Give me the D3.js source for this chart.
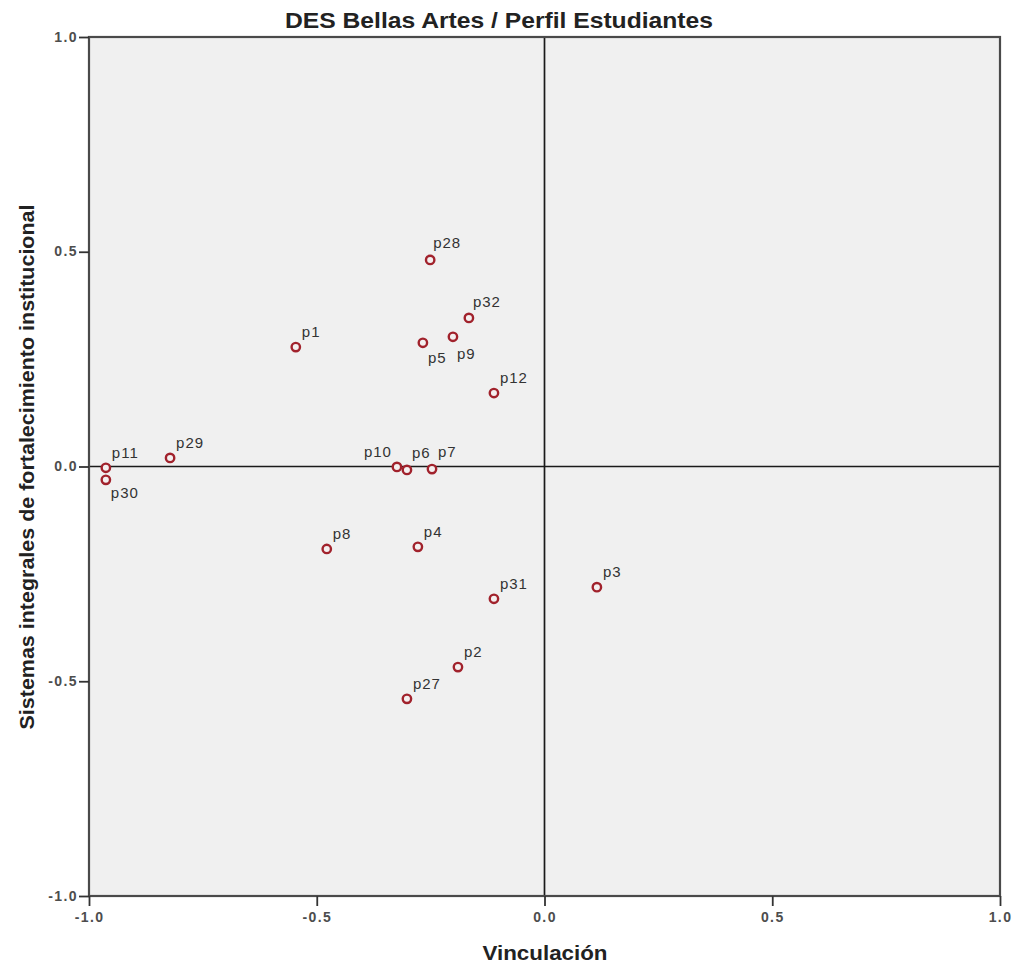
<!DOCTYPE html>
<html><head><meta charset="utf-8">
<script src="https://cdn.jsdelivr.net/npm/d3@7"></script>
<style>body{margin:0;background:#fff;} text{font-family:"Liberation Sans",Arial,sans-serif;}</style>
</head><body><svg id="c" width="1015" height="964"></svg>
<script>
const names = ["p1","p2","p3","p4","p5","p6","p7","p8","p9","p10","p11","p12","p27","p28","p29","p30","p31","p32"];
const vinculacion = [-0.546,-0.190,0.115,-0.278,-0.267,-0.302,-0.247,-0.478,-0.201,-0.324,-0.963,-0.111,-0.302,-0.251,-0.822,-0.963,-0.111,-0.166];
const sistemas = [0.278,-0.467,-0.281,-0.187,0.288,-0.008,-0.006,-0.192,0.302,-0.001,-0.003,0.171,-0.541,0.481,0.020,-0.031,-0.308,0.346];
const tickValues = [-1.0,-0.5,0.0,0.5,1.0];
const title = "DES Bellas Artes / Perfil Estudiantes";
const xTitle = "Vinculación";
const yTitle = "Sistemas integrales de fortalecimiento institucional";

// label placement (layout only)
const labelOffsets = {
  p5:[5,20,"start"], p9:[4,22,"start"], p30:[5,18,"start"], p10:[-5,-10,"end"],
  p6:[5,-12,"start"], p7:[6,-12,"start"], p28:[3,-12,"start"], p32:[4,-11,"start"]
};
const defaultOffset = [6,-10,"start"];

const svg = d3.select("#c");
const L=89, R=1000, T=37, B=896;
const x = d3.scaleLinear().domain([-1,1]).range([L,R]);
const y = d3.scaleLinear().domain([-1,1]).range([B,T]);

svg.append("rect").attr("x",L).attr("y",T).attr("width",R-L).attr("height",B-T)
  .attr("fill","#f0f0f0");

svg.append("line").attr("x1",L).attr("x2",R).attr("y1",y(0)).attr("y2",y(0))
  .attr("stroke","#1a1a1a").attr("stroke-width",1.7);
svg.append("line").attr("x1",x(0)).attr("x2",x(0)).attr("y1",T).attr("y2",B)
  .attr("stroke","#1a1a1a").attr("stroke-width",1.7);

svg.append("rect").attr("x",L).attr("y",T).attr("width",R-L).attr("height",B-T)
  .attr("fill","none").attr("stroke","#4a4a4a").attr("stroke-width",2.2);

const fmt = d => d.toFixed(1);
const xAxis = svg.append("g").attr("transform",`translate(0,${B})`)
  .call(d3.axisBottom(x).tickValues(tickValues).tickFormat(fmt).tickSize(10).tickSizeOuter(0));
const yAxis = svg.append("g").attr("transform",`translate(${L},0)`)
  .call(d3.axisLeft(y).tickValues(tickValues).tickFormat(fmt).tickSize(10).tickSizeOuter(0));
[xAxis,yAxis].forEach(g=>{
  g.select(".domain").remove();
  g.selectAll(".tick line").attr("stroke","#333").attr("stroke-width",1.8);
  g.selectAll(".tick text").attr("fill","#4d4d4d").style("font-size","14px")
    .style("letter-spacing","1.4px").style("font-weight","bold")
    .style("font-family","'Liberation Sans',Arial,sans-serif");
});
xAxis.selectAll(".tick text").attr("y",15).attr("dy","0.8em");
yAxis.selectAll(".tick text").attr("x",-11).attr("dy","0.3em");

const pts = names.map((n,i)=>({n, vx:vinculacion[i], vy:sistemas[i]}));

svg.append("g").selectAll("circle").data(pts).join("circle")
  .attr("cx",d=>x(d.vx)).attr("cy",d=>y(d.vy)).attr("r",4.2)
  .attr("fill","#f4f0f0").attr("stroke","#a1222c").attr("stroke-width",2.4);

svg.append("g").selectAll("text").data(pts).join("text")
  .attr("x",d=>x(d.vx)+(labelOffsets[d.n]||defaultOffset)[0])
  .attr("y",d=>y(d.vy)+(labelOffsets[d.n]||defaultOffset)[1])
  .attr("text-anchor",d=>(labelOffsets[d.n]||defaultOffset)[2])
  .attr("fill","#333").style("font-size","15px").style("letter-spacing","1px").text(d=>d.n);

svg.append("text").attr("x",499).attr("y",28).attr("text-anchor","middle")
  .attr("textLength",428).attr("lengthAdjust","spacingAndGlyphs")
  .style("font-size","22px").style("font-weight","bold").attr("fill","#222").text(title);
svg.append("text").attr("x",545).attr("y",960).attr("text-anchor","middle")
  .attr("textLength",125).attr("lengthAdjust","spacingAndGlyphs")
  .style("font-size","20px").style("font-weight","bold").attr("fill","#222").text(xTitle);
svg.append("text").attr("transform",`translate(27,${467}) rotate(-90)`).attr("text-anchor","middle")
  .attr("dy","0.35em")
  .attr("textLength",525).attr("lengthAdjust","spacingAndGlyphs")
  .style("font-size","20px").style("font-weight","bold").attr("fill","#222").text(yTitle);
</script></body></html>
